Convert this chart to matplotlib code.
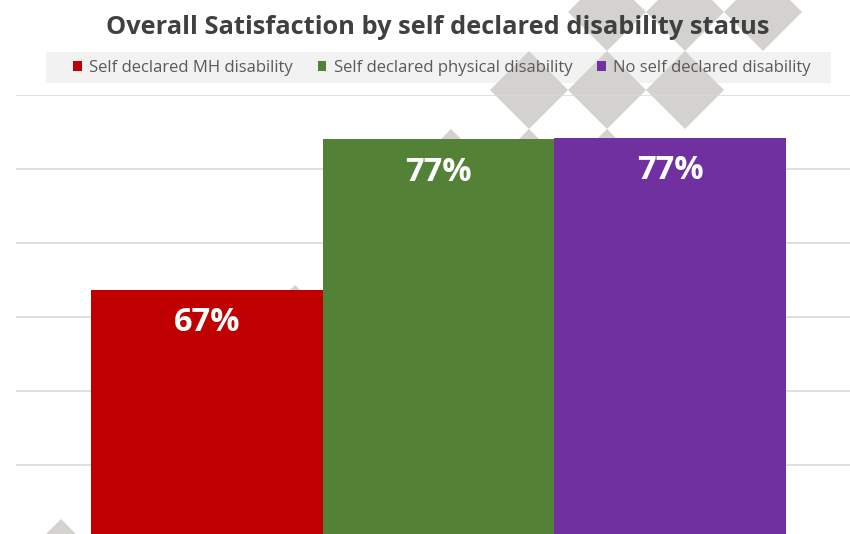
import matplotlib
matplotlib.use("Agg")
import matplotlib.pyplot as plt
from matplotlib.patches import Polygon, Rectangle, Patch

plt.rcParams['font.family'] = ['Open Sans', 'DejaVu Sans']

# satisfaction (%) per group
groups = ['Self declared MH disability',
          'Self declared physical disability',
          'No self declared disability']
satisfaction = [66.8, 77.0, 77.1]
labels = ['67%', '77%', '77%']
colors = ['#c00000', '#538135', '#7030a0']
grid_ticks = [50, 55, 60, 65, 70, 75, 80]

W, H = 850, 534
fig = plt.figure(figsize=(W / 100, H / 100), dpi=100)

# background layer in pixel units: legend band and the diamond watermark
bg = fig.add_axes([0, 0, 1, 1], zorder=-5)
bg.set_xlim(0, W)
bg.set_ylim(H, 0)
bg.axis('off')
bg.add_patch(Rectangle((46, 52), 785, 31, facecolor='#f2f2f2', edgecolor='none'))
half = 39
for row in range(9):
    cy = 12 + 78 * row
    for k in range(3):
        cx = 607 - 78 * row + 78 * k
        bg.add_patch(Polygon([(cx - half, cy), (cx, cy - half), (cx + half, cy), (cx, cy + half)],
                             closed=True, facecolor='#d3d2ce', edgecolor='none'))

# main plot area (extends past the bottom/right edges)
ax = fig.add_axes([16 / W, -5 / H, 845 / W, 444 / H])
ax.patch.set_alpha(0)
ax.set_ylim(50, 80)
ax.set_xlim(-0.824, 2.824)
ax.set_yticks(grid_ticks)
ax.grid(axis='y', color='#d9d9d9', linewidth=1.1)
ax.set_axisbelow(True)
ax.tick_params(left=False, bottom=False, labelleft=False, labelbottom=False)
for s in ax.spines.values():
    s.set_visible(False)

xs = range(len(groups))
bars = ax.bar(xs, satisfaction, width=1.0, color=colors, edgecolor='none', zorder=2)
for b, lab in zip(bars, labels):
    ax.annotate(lab, (b.get_x() + b.get_width() / 2, b.get_height()),
                xytext=(0, -23.5), textcoords='offset points',
                ha='center', va='center', color='white',
                fontsize=23.5, fontweight='bold', zorder=3)

fig.text(438 / W, 1 - 27 / H, 'Overall Satisfaction by self declared disability status',
         ha='center', va='center', fontsize=18.3, fontweight='bold', color='#404040')

handles = [Patch(facecolor=c, edgecolor='none') for c in colors]
leg = fig.legend(handles, groups, loc='center', bbox_to_anchor=(442 / W, 1 - 68 / H),
                 ncol=3, frameon=False, fontsize=12, labelcolor='#595959',
                 handlelength=0.5, handleheight=0.5, handletextpad=0.45,
                 columnspacing=1.5)

fig.savefig('out.png', dpi=100, facecolor='white')
